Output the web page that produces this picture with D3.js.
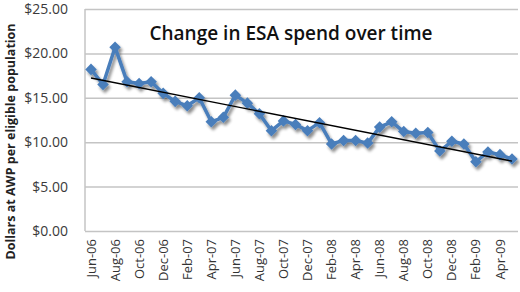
<!DOCTYPE html>
<html>
<head>
<meta charset="utf-8">
<script src="https://cdn.jsdelivr.net/npm/d3@7"></script>
<style>
  body { margin: 0; background: #fff; }
  text { font-family: "Open Sans", sans-serif; }
</style>
</head>
<body>
<div id="container"></div>
<script>
/* CONSTANTS AND GLOBALS */
const width = 520,
  height = 292,
  margin = { top: 9, right: 2, bottom: 61, left: 85 };

/* DATA */
const months = ["Jun-06","Jul-06","Aug-06","Sep-06","Oct-06","Nov-06","Dec-06","Jan-07","Feb-07","Mar-07","Apr-07","May-07",
  "Jun-07","Jul-07","Aug-07","Sep-07","Oct-07","Nov-07","Dec-07","Jan-08","Feb-08","Mar-08","Apr-08","May-08",
  "Jun-08","Jul-08","Aug-08","Sep-08","Oct-08","Nov-08","Dec-08","Jan-09","Feb-09","Mar-09","Apr-09","May-09"];
const spend = [18.2, 16.5, 20.7, 16.8, 16.6, 16.8, 15.5, 14.6, 14.1, 15.0, 12.3, 12.8,
  15.3, 14.4, 13.2, 11.3, 12.4, 12.0, 11.3, 12.2, 9.8, 10.2, 10.2, 9.9,
  11.7, 12.3, 11.2, 11.0, 11.1, 9.0, 10.1, 9.8, 7.8, 8.9, 8.6, 8.1];
const yTicks = [0, 5, 10, 15, 20, 25];
const chartTitle = "Change in ESA spend over time";
const yTitle = "Dollars at AWP per eligible population";

// CREATE SVG ELEMENT
const svg = d3.select("#container")
  .append("svg")
  .attr("width", width)
  .attr("height", height)

const defs = svg.append("defs")
const shadow = defs.append("filter")
  .attr("id", "shadow")
  .attr("x", "-10%").attr("y", "-10%")
  .attr("width", "130%").attr("height", "140%")
shadow.append("feGaussianBlur").attr("in", "SourceAlpha").attr("stdDeviation", 1.5).attr("result", "b")
shadow.append("feOffset").attr("in", "b").attr("dx", 2).attr("dy", 3).attr("result", "o")
shadow.append("feComponentTransfer").attr("in", "o").attr("result", "s")
  .append("feFuncA").attr("type", "linear").attr("slope", 0.45)
const merge = shadow.append("feMerge")
merge.append("feMergeNode").attr("in", "s")
merge.append("feMergeNode").attr("in", "SourceGraphic")

// SCALES
const xScale = d3.scaleBand()
  .domain(months)
  .range([margin.left, width - margin.right])

const yScale = d3.scaleLinear()
  .domain([0, 25])
  .range([height - margin.bottom, margin.top])

const xPos = d => xScale(d) + xScale.bandwidth() / 2

// GRIDLINES
svg.append("g")
  .attr("class", "grid")
  .attr("transform", `translate(${margin.left},0)`)
  .call(d3.axisLeft(yScale).tickValues(yTicks).tickSize(-(width - margin.left - margin.right)).tickFormat(""))
  .call(g => g.select(".domain").remove())
  .call(g => g.selectAll("line").attr("stroke", "#c4c4c4").attr("stroke-width", 1.5))

// left axis line
svg.append("line")
  .attr("x1", margin.left).attr("x2", margin.left)
  .attr("y1", yScale(25)).attr("y2", yScale(0))
  .attr("stroke", "#c4c4c4").attr("stroke-width", 1.5)

// Y AXIS LABELS
svg.append("g")
  .attr("class", "y-axis")
  .attr("transform", `translate(${margin.left - 14},0)`)
  .call(d3.axisLeft(yScale).tickValues(yTicks).tickSize(0).tickFormat(d => "$" + d.toFixed(2)))
  .call(g => g.select(".domain").remove())
  .call(g => g.selectAll("text").attr("font-size", 14).attr("fill", "#3a3a3a").attr("dy", "0.32em"))

// X AXIS LABELS
svg.append("g")
  .attr("class", "x-axis")
  .attr("transform", `translate(0,${yScale(0)})`)
  .call(d3.axisBottom(xScale).tickValues(months.filter((d, i) => i % 2 === 0)).tickSize(0))
  .call(g => g.select(".domain").remove())
  .selectAll("text")
  .attr("transform", "rotate(-90)")
  .attr("text-anchor", "end")
  .attr("x", -8)
  .attr("y", 0)
  .attr("dy", "0.35em")
  .attr("font-size", 13)
  .attr("fill", "#333")

// Y TITLE
svg.append("text")
  .attr("transform", `translate(15,${(margin.top + height) / 2 - 9}) rotate(-90)`)
  .attr("text-anchor", "middle")
  .attr("font-size", 12.5)
  .attr("font-weight", "bold")
  .attr("fill", "#222")
  .text(yTitle)

// TITLE
svg.append("text")
  .attr("x", 291)
  .attr("y", 40)
  .attr("text-anchor", "middle")
  .attr("font-size", 19)
  .attr("font-weight", 600)
  .attr("fill", "#111")
  .text(chartTitle)

// DRAW LINE
const lineGen = d3.line()
  .x(d => xPos(d.month))
  .y(d => yScale(d.value))

const data = months.map((m, i) => ({ month: m, value: spend[i] }))

const series = svg.append("g").attr("filter", "url(#shadow)")

series.append("path")
  .datum(data)
  .attr("fill", "none")
  .attr("stroke", "#4a7ebb")
  .attr("stroke-width", 3.5)
  .attr("stroke-linejoin", "round")
  .attr("d", lineGen)

series.selectAll(".marker")
  .data(data)
  .join("path")
  .attr("class", "marker")
  .attr("d", d3.symbol(d3.symbolDiamond2, 85))
  .attr("transform", d => `translate(${xPos(d.month)},${yScale(d.value)})`)
  .attr("fill", "#4a7ebb")

// TREND LINE (least squares on the series)
const n = spend.length
const mx = d3.mean(spend, (d, i) => i)
const my = d3.mean(spend)
const slope = d3.sum(spend, (d, i) => (i - mx) * (d - my)) / d3.sum(spend, (d, i) => (i - mx) * (i - mx))
const icpt = my - slope * mx

svg.append("line")
  .attr("x1", xPos(months[0])).attr("y1", yScale(icpt))
  .attr("x2", xPos(months[n - 1])).attr("y2", yScale(icpt + slope * (n - 1)))
  .attr("stroke", "#000")
  .attr("stroke-width", 1.4)
</script>
</body>
</html>
